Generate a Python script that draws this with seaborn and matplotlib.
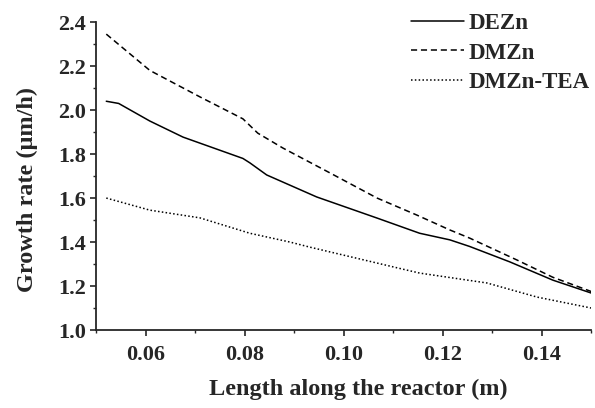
import numpy as np
import pandas as pd
import matplotlib
matplotlib.use("Agg")
import matplotlib.pyplot as plt
import seaborn as sns
from matplotlib.ticker import MultipleLocator

# values
x_dezn = [0.052, 0.0545, 0.0608, 0.0675, 0.0796, 0.081, 0.0844, 0.0945, 0.1067, 0.1153, 0.1214, 0.1254, 0.1335, 0.1422, 0.150]
y_dezn = [2.04, 2.03, 1.95, 1.877, 1.78, 1.76, 1.705, 1.605, 1.509, 1.44, 1.41, 1.38, 1.31, 1.227, 1.168]

x_dmzn = [0.052, 0.0608, 0.0709, 0.0796, 0.0826, 0.0877, 0.0972, 0.1067, 0.1147, 0.1214, 0.1254, 0.135, 0.1422, 0.150]
y_dmzn = [2.345, 2.18, 2.06, 1.96, 1.895, 1.827, 1.714, 1.60, 1.523, 1.455, 1.418, 1.318, 1.24, 1.175]

x_tea = [0.052, 0.0608, 0.0709, 0.081, 0.0891, 0.0931, 0.1113, 0.1153, 0.1289, 0.139, 0.150]
y_tea = [1.60, 1.545, 1.51, 1.44, 1.40, 1.377, 1.28, 1.259, 1.214, 1.15, 1.10]

names = ["DEZn", "DMZn", "DMZn-TEA"]
xticks = [0.06, 0.08, 0.10, 0.12, 0.14]
yticks = [1.0, 1.2, 1.4, 1.6, 1.8, 2.0, 2.2, 2.4]

df = pd.concat([
    pd.DataFrame({"x": x_dezn, "y": y_dezn, "gas": names[0]}),
    pd.DataFrame({"x": x_dmzn, "y": y_dmzn, "gas": names[1]}),
    pd.DataFrame({"x": x_tea, "y": y_tea, "gas": names[2]}),
])

sns.set_style("ticks")
plt.rcParams["font.family"] = ["Liberation Serif", "DejaVu Serif"]
plt.rcParams["font.weight"] = "bold"

fig = plt.figure(figsize=(5.95, 4.08), dpi=100)
ax = fig.add_axes([0.162, 0.191, 0.832, 0.755])

sns.lineplot(data=df, x="x", y="y", hue="gas", style="gas",
             palette={n: "black" for n in names},
             dashes={"DEZn": "", "DMZn": (4, 2.5), "DMZn-TEA": (1, 1.5)},
             linewidth=1.1, sort=False, ax=ax)

ax.set_xlim(0.05, 0.15)
ax.set_ylim(1.0, 2.4)
ax.xaxis.set_minor_locator(MultipleLocator(0.01))
ax.yaxis.set_minor_locator(MultipleLocator(0.1))
ax.set_xticks(xticks)
ax.set_xticklabels([f"{v:.2f}" for v in xticks])
ax.set_yticks(yticks)
ax.set_yticklabels([f"{v:.1f}" for v in yticks])
ax.tick_params(axis="both", which="major", labelsize=16, length=4, width=1.2)
ax.tick_params(axis="x", which="major", pad=7)
ax.tick_params(axis="both", which="minor", length=2.5, width=1)
for lab in ax.get_xticklabels() + ax.get_yticklabels():
    lab.set_fontweight("bold")

sns.despine(ax=ax)
ax.spines["left"].set_linewidth(1.3)
ax.spines["bottom"].set_linewidth(1.3)

ax.set_xlabel("Length along the reactor (m)", fontsize=17.5, fontweight="bold")
ax.xaxis.set_label_coords(0.53, -0.158)
ax.set_ylabel("Growth rate (\u03bcm/h)", fontsize=17.5, fontweight="bold")
ax.yaxis.set_label_coords(-0.118, 0.455)

leg = ax.legend(loc="upper right", bbox_to_anchor=(1.015, 1.06), frameon=False,
                fontsize=16.5, handlelength=2.3, handletextpad=0.2,
                labelspacing=0.38, borderaxespad=0.0)
for t in leg.get_texts():
    t.set_fontweight("bold")

fig.savefig("out.png", dpi=100)
